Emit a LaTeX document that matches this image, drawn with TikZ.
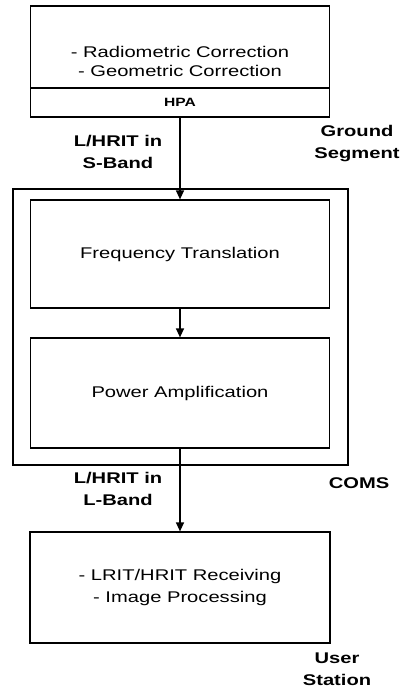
\documentclass[tikz,border=0pt]{standalone}
\usepackage{fontspec}
\setmainfont{Liberation Sans}[FakeStretch=1.3]
\usetikzlibrary{arrows.meta}

\tikzset{
  blocco/.style={draw, line width=1.2pt, inner sep=0pt},
  freccia/.style={line width=1.2pt, -{Triangle[length=9pt,width=8pt]}},
  etich/.style={font=\bfseries\fontsize{15.5}{22}\selectfont, align=center},
}

\begin{document}
\begin{tikzpicture}[x=1pt, y=-1pt, every node/.style={font=\fontsize{15.5}{22}\selectfont}]
    \useasboundingbox (0,0) rectangle (406,691);

    % --- Ground Segment (in alto) ---
    \node[blocco, minimum width=299pt, minimum height=82pt] (proc) at (180,47) {};
    \node[align=center, font=\fontsize{15.5}{19}\selectfont] (proctxt) at (180,61)
    {- Radiometric Correction\\- Geometric Correction};
    \node[blocco, minimum width=299pt, minimum height=29pt,
    font=\bfseries\fontsize{12}{12}\selectfont] (hpa) at (180,102.5) {HPA};

    % --- COMS ---
    \node[blocco, minimum width=335pt, minimum height=276pt] (coms) at (180.5,327) {};
    \node[blocco, minimum width=299pt, minimum height=108pt] (freq) at (180,254) {Frequency Translation};
    \node[blocco, minimum width=299pt, minimum height=110pt] (pow) at (180,393) {Power Amplification};

    % --- User Station (in basso) ---
    \node[blocco, minimum width=300pt, minimum height=111pt, align=center] (user) at (180,587.5)
    {- LRIT/HRIT Receiving\\- Image Processing};

    % Frecce
    \draw[freccia] (hpa) -- (freq);
    \draw[freccia] (freq) -- (pow);
    \draw[freccia] (pow) -- (user);

    % Etichette
    \node[etich] (sband) at (118,152) {L/HRIT in\\S-Band};
    \node[etich] (lband) at (118,489) {L/HRIT in\\L-Band};
    \node[etich] (gseg) at (357,144) {Ground\\Segment};
    \node[etich] (comslab) at (359,483) {COMS};
    \node[etich] (ustat) at (337,669) {User\\Station};

\end{tikzpicture}
\end{document}
